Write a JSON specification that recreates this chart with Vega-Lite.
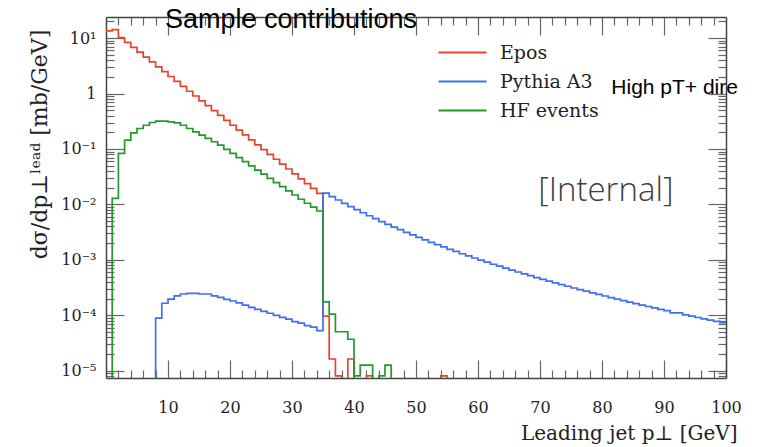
{
  "$schema": "https://vega.github.io/schema/vega-lite/v6.json",
  "width": 620,
  "height": 361,
  "autosize": {"type": "none"},
  "padding": {"left": 106, "top": 17, "right": 33, "bottom": 69},
  "background": "white",
  "config": {"view": {"stroke": null}},
  "data": {"values": [
    {"s": "Epos", "x": 0, "y": 13.5}, {"s": "Epos", "x": 1, "y": 14.2}, {"s": "Epos", "x": 2, "y": 10.2}, {"s": "Epos", "x": 3, "y": 8.34},
    {"s": "Epos", "x": 4, "y": 6.81}, {"s": "Epos", "x": 5, "y": 5.57}, {"s": "Epos", "x": 6, "y": 4.55}, {"s": "Epos", "x": 7, "y": 3.72},
    {"s": "Epos", "x": 8, "y": 3.03}, {"s": "Epos", "x": 9, "y": 2.48}, {"s": "Epos", "x": 10, "y": 2.03}, {"s": "Epos", "x": 11, "y": 1.66},
    {"s": "Epos", "x": 12, "y": 1.35}, {"s": "Epos", "x": 13, "y": 1.10}, {"s": "Epos", "x": 14, "y": 0.902}, {"s": "Epos", "x": 15, "y": 0.738},
    {"s": "Epos", "x": 16, "y": 0.603}, {"s": "Epos", "x": 17, "y": 0.492}, {"s": "Epos", "x": 18, "y": 0.402}, {"s": "Epos", "x": 19, "y": 0.328},
    {"s": "Epos", "x": 20, "y": 0.268}, {"s": "Epos", "x": 21, "y": 0.219}, {"s": "Epos", "x": 22, "y": 0.179}, {"s": "Epos", "x": 23, "y": 0.146},
    {"s": "Epos", "x": 24, "y": 0.119}, {"s": "Epos", "x": 25, "y": 0.0977}, {"s": "Epos", "x": 26, "y": 0.0798}, {"s": "Epos", "x": 27, "y": 0.0652},
    {"s": "Epos", "x": 28, "y": 0.0532}, {"s": "Epos", "x": 29, "y": 0.0435}, {"s": "Epos", "x": 30, "y": 0.0356}, {"s": "Epos", "x": 31, "y": 0.0290},
    {"s": "Epos", "x": 32, "y": 0.0237}, {"s": "Epos", "x": 33, "y": 0.0194}, {"s": "Epos", "x": 34, "y": 0.0158}, {"s": "Epos", "x": 35, "y": 0.000097},
    {"s": "Epos", "x": 36, "y": 0.0000163}, {"s": "Epos", "x": 37, "y": 0.00000805}, {"s": "Epos", "x": 38, "y": 1e-9}, {"s": "Epos", "x": 39, "y": 0.0000163},
    {"s": "Epos", "x": 40, "y": 1e-9}, {"s": "Epos", "x": 41, "y": 1e-9}, {"s": "Epos", "x": 42, "y": 0.00000805}, {"s": "Epos", "x": 43, "y": 1e-9},
    {"s": "Epos", "x": 44, "y": 1e-9}, {"s": "Epos", "x": 45, "y": 1e-9}, {"s": "Epos", "x": 46, "y": 1e-9}, {"s": "Epos", "x": 47, "y": 1e-9},
    {"s": "Epos", "x": 48, "y": 1e-9}, {"s": "Epos", "x": 49, "y": 1e-9}, {"s": "Epos", "x": 50, "y": 1e-9}, {"s": "Epos", "x": 51, "y": 1e-9},
    {"s": "Epos", "x": 52, "y": 1e-9}, {"s": "Epos", "x": 53, "y": 1e-9}, {"s": "Epos", "x": 54, "y": 0.00000805}, {"s": "Epos", "x": 55, "y": 1e-9},

    {"s": "Pythia A3", "x": 0, "y": 1e-9}, {"s": "Pythia A3", "x": 1, "y": 1e-9}, {"s": "Pythia A3", "x": 2, "y": 1e-9}, {"s": "Pythia A3", "x": 3, "y": 1e-9},
    {"s": "Pythia A3", "x": 4, "y": 1e-9}, {"s": "Pythia A3", "x": 5, "y": 1e-9}, {"s": "Pythia A3", "x": 6, "y": 1e-9}, {"s": "Pythia A3", "x": 7, "y": 1e-9},
    {"s": "Pythia A3", "x": 8, "y": 0.000089}, {"s": "Pythia A3", "x": 9, "y": 0.000165}, {"s": "Pythia A3", "x": 10, "y": 0.000195}, {"s": "Pythia A3", "x": 11, "y": 0.000225},
    {"s": "Pythia A3", "x": 12, "y": 0.000242}, {"s": "Pythia A3", "x": 13, "y": 0.000249}, {"s": "Pythia A3", "x": 14, "y": 0.000249}, {"s": "Pythia A3", "x": 15, "y": 0.000242},
    {"s": "Pythia A3", "x": 16, "y": 0.000242}, {"s": "Pythia A3", "x": 17, "y": 0.000225}, {"s": "Pythia A3", "x": 18, "y": 0.000211}, {"s": "Pythia A3", "x": 19, "y": 0.000194},
    {"s": "Pythia A3", "x": 20, "y": 0.000181}, {"s": "Pythia A3", "x": 21, "y": 0.000167}, {"s": "Pythia A3", "x": 22, "y": 0.000153}, {"s": "Pythia A3", "x": 23, "y": 0.000139},
    {"s": "Pythia A3", "x": 24, "y": 0.000128}, {"s": "Pythia A3", "x": 25, "y": 0.000118}, {"s": "Pythia A3", "x": 26, "y": 0.000109}, {"s": "Pythia A3", "x": 27, "y": 0.000100},
    {"s": "Pythia A3", "x": 28, "y": 0.000092}, {"s": "Pythia A3", "x": 29, "y": 0.000085}, {"s": "Pythia A3", "x": 30, "y": 0.000077}, {"s": "Pythia A3", "x": 31, "y": 0.000072},
    {"s": "Pythia A3", "x": 32, "y": 0.000065}, {"s": "Pythia A3", "x": 33, "y": 0.000061}, {"s": "Pythia A3", "x": 34, "y": 0.000053}, {"s": "Pythia A3", "x": 35, "y": 0.0160},
    {"s": "Pythia A3", "x": 36, "y": 0.01384}, {"s": "Pythia A3", "x": 37, "y": 0.01202}, {"s": "Pythia A3", "x": 38, "y": 0.01047}, {"s": "Pythia A3", "x": 39, "y": 0.00916},
    {"s": "Pythia A3", "x": 40, "y": 0.00803}, {"s": "Pythia A3", "x": 41, "y": 0.00708}, {"s": "Pythia A3", "x": 42, "y": 0.00625}, {"s": "Pythia A3", "x": 43, "y": 0.00553},
    {"s": "Pythia A3", "x": 44, "y": 0.00491}, {"s": "Pythia A3", "x": 45, "y": 0.00438}, {"s": "Pythia A3", "x": 46, "y": 0.00391}, {"s": "Pythia A3", "x": 47, "y": 0.00350},
    {"s": "Pythia A3", "x": 48, "y": 0.00314}, {"s": "Pythia A3", "x": 49, "y": 0.00282}, {"s": "Pythia A3", "x": 50, "y": 0.00254}, {"s": "Pythia A3", "x": 51, "y": 0.00229},
    {"s": "Pythia A3", "x": 52, "y": 0.00207}, {"s": "Pythia A3", "x": 53, "y": 0.00188}, {"s": "Pythia A3", "x": 54, "y": 0.00171}, {"s": "Pythia A3", "x": 55, "y": 0.00155},
    {"s": "Pythia A3", "x": 56, "y": 0.00142}, {"s": "Pythia A3", "x": 57, "y": 0.00129}, {"s": "Pythia A3", "x": 58, "y": 0.00118}, {"s": "Pythia A3", "x": 59, "y": 0.00108},
    {"s": "Pythia A3", "x": 60, "y": 0.000989}, {"s": "Pythia A3", "x": 61, "y": 0.000908}, {"s": "Pythia A3", "x": 62, "y": 0.000834}, {"s": "Pythia A3", "x": 63, "y": 0.000768},
    {"s": "Pythia A3", "x": 64, "y": 0.000708}, {"s": "Pythia A3", "x": 65, "y": 0.000654}, {"s": "Pythia A3", "x": 66, "y": 0.000604}, {"s": "Pythia A3", "x": 67, "y": 0.000559},
    {"s": "Pythia A3", "x": 68, "y": 0.000518}, {"s": "Pythia A3", "x": 69, "y": 0.000480}, {"s": "Pythia A3", "x": 70, "y": 0.000445}, {"s": "Pythia A3", "x": 71, "y": 0.000414},
    {"s": "Pythia A3", "x": 72, "y": 0.000385}, {"s": "Pythia A3", "x": 73, "y": 0.000358}, {"s": "Pythia A3", "x": 74, "y": 0.000334}, {"s": "Pythia A3", "x": 75, "y": 0.000311},
    {"s": "Pythia A3", "x": 76, "y": 0.000290}, {"s": "Pythia A3", "x": 77, "y": 0.000272}, {"s": "Pythia A3", "x": 78, "y": 0.000254}, {"s": "Pythia A3", "x": 79, "y": 0.000238},
    {"s": "Pythia A3", "x": 80, "y": 0.000223}, {"s": "Pythia A3", "x": 81, "y": 0.000209}, {"s": "Pythia A3", "x": 82, "y": 0.000196}, {"s": "Pythia A3", "x": 83, "y": 0.000184},
    {"s": "Pythia A3", "x": 84, "y": 0.000173}, {"s": "Pythia A3", "x": 85, "y": 0.000163}, {"s": "Pythia A3", "x": 86, "y": 0.000153}, {"s": "Pythia A3", "x": 87, "y": 0.000144},
    {"s": "Pythia A3", "x": 88, "y": 0.000136}, {"s": "Pythia A3", "x": 89, "y": 0.000128}, {"s": "Pythia A3", "x": 90, "y": 0.000121}, {"s": "Pythia A3", "x": 91, "y": 0.000111},
    {"s": "Pythia A3", "x": 92, "y": 0.000111}, {"s": "Pythia A3", "x": 93, "y": 0.000102}, {"s": "Pythia A3", "x": 94, "y": 0.0000964}, {"s": "Pythia A3", "x": 95, "y": 0.0000913},
    {"s": "Pythia A3", "x": 96, "y": 0.0000865}, {"s": "Pythia A3", "x": 97, "y": 0.0000819}, {"s": "Pythia A3", "x": 98, "y": 0.0000777}, {"s": "Pythia A3", "x": 99, "y": 0.0000737},
    {"s": "Pythia A3", "x": 100, "y": 0.0000737},

    {"s": "HF events", "x": 0, "y": 1e-9}, {"s": "HF events", "x": 1, "y": 0.0128}, {"s": "HF events", "x": 2, "y": 0.083}, {"s": "HF events", "x": 3, "y": 0.144},
    {"s": "HF events", "x": 4, "y": 0.195}, {"s": "HF events", "x": 5, "y": 0.234}, {"s": "HF events", "x": 6, "y": 0.268}, {"s": "HF events", "x": 7, "y": 0.300},
    {"s": "HF events", "x": 8, "y": 0.317}, {"s": "HF events", "x": 9, "y": 0.317}, {"s": "HF events", "x": 10, "y": 0.308}, {"s": "HF events", "x": 11, "y": 0.296},
    {"s": "HF events", "x": 12, "y": 0.268}, {"s": "HF events", "x": 13, "y": 0.234}, {"s": "HF events", "x": 14, "y": 0.204}, {"s": "HF events", "x": 15, "y": 0.177},
    {"s": "HF events", "x": 16, "y": 0.155}, {"s": "HF events", "x": 17, "y": 0.135}, {"s": "HF events", "x": 18, "y": 0.117}, {"s": "HF events", "x": 19, "y": 0.098},
    {"s": "HF events", "x": 20, "y": 0.083}, {"s": "HF events", "x": 21, "y": 0.070}, {"s": "HF events", "x": 22, "y": 0.0589}, {"s": "HF events", "x": 23, "y": 0.0495},
    {"s": "HF events", "x": 24, "y": 0.0417}, {"s": "HF events", "x": 25, "y": 0.0351}, {"s": "HF events", "x": 26, "y": 0.0295}, {"s": "HF events", "x": 27, "y": 0.0248},
    {"s": "HF events", "x": 28, "y": 0.0209}, {"s": "HF events", "x": 29, "y": 0.0176}, {"s": "HF events", "x": 30, "y": 0.0148}, {"s": "HF events", "x": 31, "y": 0.0124},
    {"s": "HF events", "x": 32, "y": 0.0105}, {"s": "HF events", "x": 33, "y": 0.0089}, {"s": "HF events", "x": 34, "y": 0.0076}, {"s": "HF events", "x": 35, "y": 0.000174},
    {"s": "HF events", "x": 36, "y": 0.000105}, {"s": "HF events", "x": 37, "y": 0.0000505}, {"s": "HF events", "x": 38, "y": 0.0000505}, {"s": "HF events", "x": 39, "y": 0.000037},
    {"s": "HF events", "x": 40, "y": 0.00000805}, {"s": "HF events", "x": 41, "y": 0.0000126}, {"s": "HF events", "x": 42, "y": 0.0000126}, {"s": "HF events", "x": 43, "y": 1e-9},
    {"s": "HF events", "x": 44, "y": 0.00000805}, {"s": "HF events", "x": 45, "y": 0.0000126}, {"s": "HF events", "x": 46, "y": 1e-9}
  ]},
  "layer": [
    {
      "mark": {"type": "line", "interpolate": "step-after", "clip": true, "strokeWidth": 1.7},
      "encoding": {
        "x": {
          "field": "x", "type": "quantitative",
          "scale": {"domain": [0, 100], "nice": false, "zero": false},
          "axis": {
            "orient": "bottom",
            "values": [2, 4, 6, 8, 10, 12, 14, 16, 18, 20, 22, 24, 26, 28, 30, 32, 34, 36, 38, 40, 42, 44, 46, 48, 50, 52, 54, 56, 58, 60, 62, 64, 66, 68, 70, 72, 74, 76, 78, 80, 82, 84, 86, 88, 90, 92, 94, 96, 98, 100],
            "labelExpr": "datum.value % 10 == 0 ? datum.label : ''",
            "tickSize": {"condition": {"test": "datum.value % 10 == 0", "value": -18}, "value": -8},
            "labelPadding": 39,
            "labelFont": "DejaVu Serif", "labelFontSize": 16, "labelColor": "#222222",
            "labelFlush": false, "labelOverlap": false,
            "domainColor": "#444444", "domainWidth": 1.5,
            "tickColor": "#666666", "tickWidth": 1.2,
            "grid": false,
            "title": "Leading jet p⊥ [GeV]",
            "titleFont": "DejaVu Serif", "titleFontWeight": "normal", "titleFontSize": 20, "titleColor": "#222222",
            "titleAnchor": "end", "titleAlign": "right", "titleBaseline": "alphabetic",
            "titleX": 631, "titleY": 61
          }
        },
        "y": {
          "field": "y", "type": "quantitative",
          "scale": {"type": "log", "domain": [0.0000074, 24], "nice": false},
          "axis": {
            "orient": "left",
            "values": [0.000008, 0.000009, 0.00001, 0.00002, 0.00003, 0.00004, 0.00005, 0.00006, 0.00007, 0.00008, 0.00009, 0.0001, 0.0002, 0.0003, 0.0004, 0.0005, 0.0006, 0.0007, 0.0008, 0.0009, 0.001, 0.002, 0.003, 0.004, 0.005, 0.006, 0.007, 0.008, 0.009, 0.01, 0.02, 0.03, 0.04, 0.05, 0.06, 0.07, 0.08, 0.09, 0.1, 0.2, 0.3, 0.4, 0.5, 0.6, 0.7, 0.8, 0.9, 1, 2, 3, 4, 5, 6, 7, 8, 9, 10, 20],
            "labelExpr": "abs(log(datum.value)/LN10 - round(log(datum.value)/LN10)) < 0.01 ? (round(log(datum.value)/LN10) == 0 ? '1' : (round(log(datum.value)/LN10) == 1 ? '10¹' : '10⁻' + ['', '¹', '²', '³', '⁴', '⁵'][-round(log(datum.value)/LN10)])) : ''",
            "tickSize": {"condition": {"test": "abs(log(datum.value)/LN10 - round(log(datum.value)/LN10)) < 0.01", "value": -18}, "value": -8},
            "labelPadding": 28,
            "labelFont": "DejaVu Serif", "labelFontSize": 16, "labelColor": "#222222",
            "labelFlush": false, "labelOverlap": false,
            "domainColor": "#444444", "domainWidth": 1.5,
            "tickColor": "#666666", "tickWidth": 1.2,
            "grid": false,
            "title": "dσ/dp⊥ˡᵉᵃᵈ [mb/GeV]",
            "titleFont": "DejaVu Serif", "titleFontWeight": "normal", "titleFontSize": 22, "titleColor": "#222222",
            "titleAngle": 270, "titleAlign": "center", "titleBaseline": "alphabetic",
            "titleX": -60, "titleY": 127
          }
        },
        "color": {
          "field": "s", "type": "nominal",
          "sort": ["Epos", "Pythia A3", "HF events"],
          "scale": {"domain": ["Epos", "Pythia A3", "HF events"], "range": ["#e8432d", "#3d6ff0", "#23992b"]},
          "legend": {
            "orient": "none", "legendX": 347, "legendY": 26, "title": null,
            "symbolType": "M-3,0H3", "symbolSize": 256, "symbolStrokeWidth": 2,
            "labelFont": "DejaVu Serif", "labelFontSize": 19, "labelColor": "#222222",
            "rowPadding": 9, "labelOffset": 28, "padding": 0
          }
        }
      }
    },
    {
      "mark": {"type": "point", "opacity": 0},
      "encoding": {
        "x": {
          "field": "x", "type": "quantitative",
          "axis": {
            "orient": "top",
            "values": [2, 4, 6, 8, 10, 12, 14, 16, 18, 20, 22, 24, 26, 28, 30, 32, 34, 36, 38, 40, 42, 44, 46, 48, 50, 52, 54, 56, 58, 60, 62, 64, 66, 68, 70, 72, 74, 76, 78, 80, 82, 84, 86, 88, 90, 92, 94, 96, 98],
            "labels": false, "title": null, "grid": false,
            "tickSize": {"condition": {"test": "datum.value % 10 == 0", "value": -18}, "value": -8},
            "domainColor": "#444444", "domainWidth": 1.5,
            "tickColor": "#666666", "tickWidth": 1.2
          }
        },
        "y": {
          "field": "y", "type": "quantitative",
          "axis": {
            "orient": "right",
            "values": [0.000008, 0.000009, 0.00001, 0.00002, 0.00003, 0.00004, 0.00005, 0.00006, 0.00007, 0.00008, 0.00009, 0.0001, 0.0002, 0.0003, 0.0004, 0.0005, 0.0006, 0.0007, 0.0008, 0.0009, 0.001, 0.002, 0.003, 0.004, 0.005, 0.006, 0.007, 0.008, 0.009, 0.01, 0.02, 0.03, 0.04, 0.05, 0.06, 0.07, 0.08, 0.09, 0.1, 0.2, 0.3, 0.4, 0.5, 0.6, 0.7, 0.8, 0.9, 1, 2, 3, 4, 5, 6, 7, 8, 9, 10, 20],
            "labels": false, "title": null, "grid": false,
            "tickSize": {"condition": {"test": "abs(log(datum.value)/LN10 - round(log(datum.value)/LN10)) < 0.01", "value": -18}, "value": -8},
            "domainColor": "#444444", "domainWidth": 1.5,
            "tickColor": "#666666", "tickWidth": 1.2
          }
        }
      }
    },
    {
      "data": {"values": [{"t": "Sample contributions", "x": 9.5, "y": 15.0}]},
      "mark": {"type": "text", "align": "left", "baseline": "alphabetic", "font": "Liberation Sans", "fontSize": 27, "color": "#000000"},
      "encoding": {
        "x": {"field": "x", "type": "quantitative", "axis": null},
        "y": {"field": "y", "type": "quantitative", "axis": null},
        "text": {"field": "t"}
      }
    },
    {
      "data": {"values": [{"t": "High pT+ dire", "x": 81.5, "y": 1.245}]},
      "mark": {"type": "text", "align": "left", "baseline": "middle", "font": "Liberation Sans", "fontSize": 21, "color": "#000000"},
      "encoding": {
        "x": {"field": "x", "type": "quantitative", "axis": null},
        "y": {"field": "y", "type": "quantitative", "axis": null},
        "text": {"field": "t"}
      }
    },
    {
      "data": {"values": [{"t": "[Internal]", "x": 69.7, "y": 0.0175}]},
      "mark": {"type": "text", "align": "left", "baseline": "middle", "font": "Open Sans", "fontWeight": 300, "fontSize": 33, "color": "#404040"},
      "encoding": {
        "x": {"field": "x", "type": "quantitative", "axis": null},
        "y": {"field": "y", "type": "quantitative", "axis": null},
        "text": {"field": "t"}
      }
    }
  ],
  "resolve": {"axis": {"x": "independent", "y": "independent"}}
}
